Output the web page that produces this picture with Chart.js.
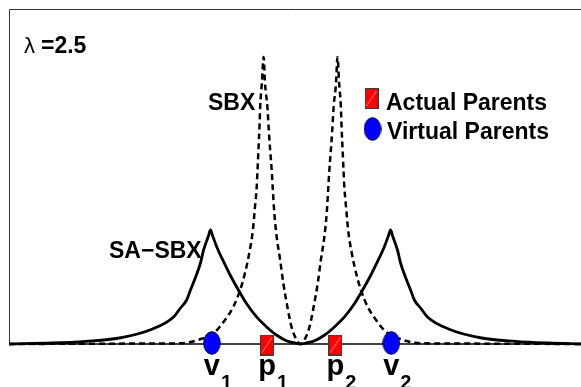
<!DOCTYPE html>
<html>
<head>
<meta charset="utf-8">
<script src="https://cdn.jsdelivr.net/npm/chart.js@4/dist/chart.umd.min.js"></script>
<style>
  html, body { margin: 0; padding: 0; background: #fff; overflow: hidden; }
  canvas { display: block; }
</style>
</head>
<body>
<canvas id="chart" width="581" height="387"></canvas>
<script>
// x in units of the parent half-distance, y in arbitrary density units
const sbxX = [-8.45, -4.64, -3.49, -2.91, -2.48, -2.19, -1.95, -1.75, -1.61, -1.48, -1.38, -1.32, -1.27, -1.25, -1.22, -1.19, -1.17, -1.12, -1.07, -1.03, -0.96, -0.92, -0.88, -0.83, -0.81, -0.76, -0.69, -0.59, -0.50, -0.38, -0.26, -0.11,
  0,
  0.11, 0.26, 0.38, 0.50, 0.59, 0.69, 0.76, 0.81, 0.83, 0.88, 0.92, 0.96, 1.03, 1.07, 1.12, 1.17, 1.19, 1.22, 1.25, 1.27, 1.32, 1.38, 1.48, 1.61, 1.75, 1.95, 2.19, 2.48, 2.91, 3.49, 4.64, 8.13];
const sbxY = [0, 0.004, 0.007, 0.047, 0.12, 0.24, 0.37, 0.54, 0.71, 0.92, 1.14, 1.37, 1.57, 1.71, 1.94, 2.17, 2.37, 2.61, 2.87, 2.61, 2.37, 2.14, 1.94, 1.71, 1.59, 1.31, 1.07, 0.84, 0.61, 0.37, 0.17, 0.04,
  0,
  0.04, 0.17, 0.37, 0.61, 0.84, 1.07, 1.31, 1.59, 1.71, 1.94, 2.14, 2.37, 2.61, 2.87, 2.61, 2.37, 2.17, 1.94, 1.71, 1.57, 1.37, 1.14, 0.92, 0.71, 0.54, 0.37, 0.24, 0.12, 0.047, 0.007, 0.004, 0];

const saX = [-8.45, -7.19, -6.23, -5.25, -4.29, -3.68, -3.48, -3.30, -3.19, -3.04, -2.90, -2.81, -2.67, -2.61, -2.55, -2.43, -2.23, -2.04, -1.80, -1.57, -1.28, -0.99, -0.70, -0.41, -0.12,
  0,
  0.12, 0.41, 0.70, 0.99, 1.28, 1.57, 1.80, 2.04, 2.23, 2.43, 2.55, 2.61, 2.67, 2.81, 2.90, 3.04, 3.19, 3.30, 3.48, 3.68, 4.29, 5.25, 6.23, 7.19, 8.13];
const saY = [0, 0.01, 0.027, 0.06, 0.15, 0.27, 0.36, 0.44, 0.54, 0.67, 0.81, 0.94, 1.08, 1.14, 1.085, 0.973, 0.823, 0.69, 0.54, 0.407, 0.273, 0.173, 0.09, 0.033, 0.007,
  0,
  0.007, 0.033, 0.09, 0.173, 0.273, 0.407, 0.54, 0.69, 0.823, 0.973, 1.085, 1.14, 1.08, 0.94, 0.81, 0.67, 0.54, 0.44, 0.36, 0.27, 0.15, 0.06, 0.027, 0.01, 0];

const actualX = [-0.97, 1.01];
const actualY = [-0.01, -0.01];
const actualSubs = ["1", "2"];
const virtualX = [-2.57, 2.63];
const virtualY = [0.01, 0.01];
const virtualSubs = ["1", "2"];

const FONT = '"Liberation Sans", Arial, Helvetica, sans-serif';

function makeSquare() {
  const c = document.createElement("canvas");
  c.width = 14; c.height = 21;
  const g = c.getContext("2d");
  g.fillStyle = "#ff0000";
  g.fillRect(0.5, 0.5, 13, 20);
  g.strokeStyle = "rgba(255,190,190,0.9)";
  g.lineWidth = 0.8;
  g.beginPath(); g.moveTo(2, 18); g.lineTo(12, 3); g.stroke();
  g.strokeStyle = "#3a3a3a";
  g.lineWidth = 1;
  g.strokeRect(0.5, 0.5, 13, 20);
  return c;
}

function makeEllipse() {
  const c = document.createElement("canvas");
  c.width = 18; c.height = 24;
  const g = c.getContext("2d");
  g.beginPath();
  g.ellipse(9, 12, 8.3, 11.3, 0, 0, Math.PI * 2);
  g.fillStyle = "#0000ff";
  g.fill();
  g.strokeStyle = "#000040";
  g.lineWidth = 1;
  g.stroke();
  return c;
}

const squareImg = makeSquare();
const ellipseImg = makeEllipse();

function toPoints(xs, ys) {
  return xs.map((x, i) => ({ x: x, y: ys[i] }));
}

const overlay = {
  id: "overlay",
  beforeDatasetsDraw(chart) {
    const { ctx, chartArea: a } = chart;
    ctx.save();
    ctx.strokeStyle = "#333";
    ctx.lineWidth = 1;
    ctx.beginPath();
    ctx.moveTo(a.left + 0.5, a.bottom);
    ctx.lineTo(a.left + 0.5, a.top + 0.5);
    ctx.lineTo(a.right, a.top + 0.5);
    ctx.stroke();
    ctx.strokeStyle = "#000";
    ctx.lineWidth = 1.6;
    ctx.beginPath();
    ctx.moveTo(a.left, a.bottom);
    ctx.lineTo(a.right, a.bottom);
    ctx.stroke();
    ctx.restore();
  },
  afterDraw(chart) {
    const { ctx, chartArea: a } = chart;
    const xs = chart.scales.x;
    ctx.save();
    ctx.fillStyle = "#000";
    ctx.textBaseline = "alphabetic";
    ctx.textAlign = "left";

    // lambda
    ctx.font = "22px " + FONT;
    ctx.fillText("λ", a.left + 15, a.top + 44);
    ctx.font = "bold 23px " + FONT;
    ctx.fillText("=2.5", a.left + 32, a.top + 44);

    // curve names
    ctx.fillText("SBX", 208, 110);
    ctx.fillText("SA\u2212SBX", 109, 258);

    // legend
    ctx.drawImage(squareImg, 364.5, 88);
    ctx.drawImage(ellipseImg, 363.5, 117);
    ctx.font = "bold 23px " + FONT;
    ctx.fillText("Actual Parents", 386, 109.5);
    ctx.fillText("Virtual Parents", 387, 139);

    // marker labels with subscripts
    function label(letter, sub, x) {
      const px = xs.getPixelForValue(x);
      ctx.font = "bold 29px " + FONT;
      const w = ctx.measureText(letter).width;
      ctx.fillText(letter, px - w / 2, a.bottom + 31);
      ctx.font = "bold 20px " + FONT;
      ctx.fillText(sub, px + w / 2 + 1, a.bottom + 45);
    }
    actualX.forEach((x, i) => label("p", actualSubs[i], x));
    virtualX.forEach((x, i) => label("v", virtualSubs[i], x));
    ctx.restore();
  }
};

new Chart(document.getElementById("chart").getContext("2d"), {
  type: "line",
  data: {
    datasets: [
      {
        label: "Actual Parents",
        data: toPoints(actualX, actualY),
        showLine: false,
        pointStyle: squareImg,
        pointRadius: 10,
        order: 0,
        clip: false
      },
      {
        label: "Virtual Parents",
        data: toPoints(virtualX, virtualY),
        showLine: false,
        pointStyle: ellipseImg,
        pointRadius: 10,
        order: 0,
        clip: false
      },
      {
        label: "SA-SBX",
        data: toPoints(saX, saY),
        borderColor: "#000",
        borderWidth: 2.8,
        pointRadius: 0,
        cubicInterpolationMode: "monotone",
        fill: false,
        order: 1,
        clip: false
      },
      {
        label: "SBX",
        data: toPoints(sbxX, sbxY),
        borderColor: "#000",
        borderWidth: 2.5,
        borderDash: [6, 4],
        pointRadius: 0,
        cubicInterpolationMode: "monotone",
        fill: false,
        order: 2,
        clip: false
      }
    ]
  },
  options: {
    responsive: false,
    animation: false,
    events: [],
    layout: { autoPadding: false, padding: { left: 9, top: 9, right: 0, bottom: 43 } },
    scales: {
      x: { type: "linear", min: -8.45, max: 8.13, display: false },
      y: { type: "linear", min: 0, max: 3.35, display: false }
    },
    plugins: {
      legend: { display: false },
      tooltip: { enabled: false }
    }
  },
  plugins: [overlay]
});
</script>
</body>
</html>
